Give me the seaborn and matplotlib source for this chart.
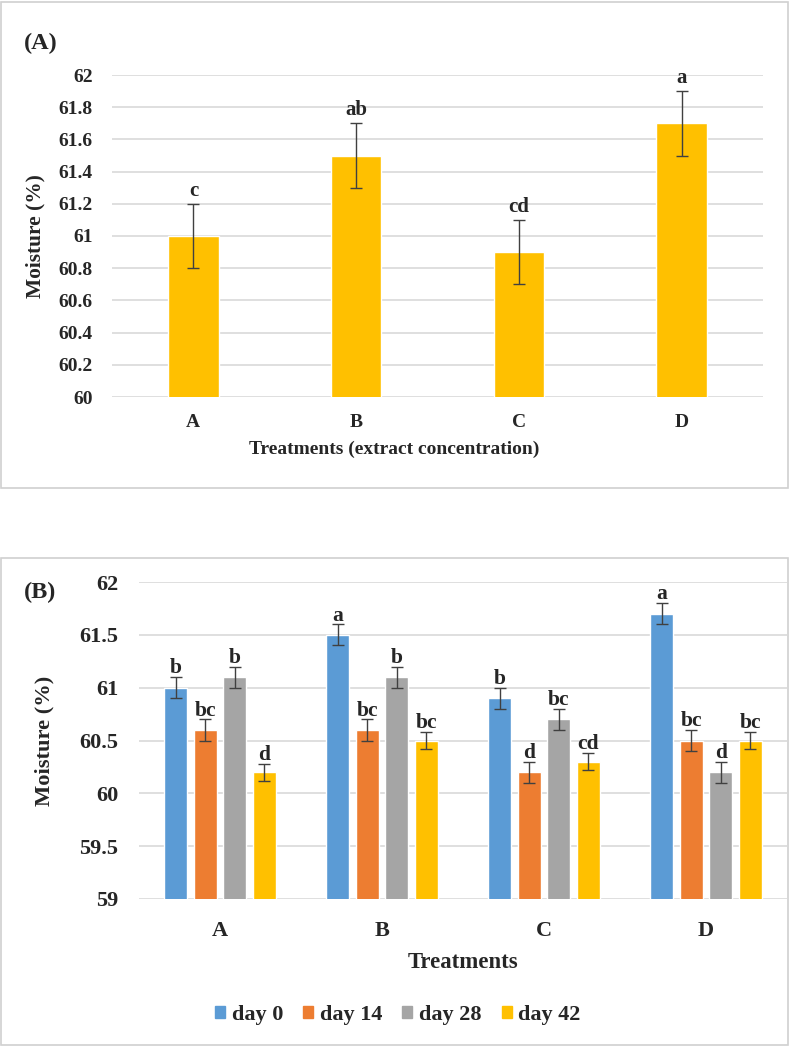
import matplotlib
matplotlib.use("Agg")
import matplotlib.pyplot as plt
import seaborn as sns
import pandas as pd
import numpy as np
from matplotlib.patches import Rectangle

sns.set_theme(style="white")
plt.rcParams['font.family'] = ['Liberation Serif', 'DejaVu Serif']
plt.rcParams['font.weight'] = 'bold'

# ---------- data ----------
treatments = ["A", "B", "C", "D"]
moisture_a = [61.0, 61.5, 60.9, 61.7]
err_a = [0.2, 0.2, 0.2, 0.2]
letters_a = ["c", "ab", "cd", "a"]

days = ["day 0", "day 14", "day 28", "day 42"]
day0 = [61.0, 61.5, 60.9, 61.7]
day14 = [60.6, 60.6, 60.2, 60.5]
day28 = [61.1, 61.1, 60.7, 60.2]
day42 = [60.2, 60.5, 60.3, 60.5]
err_day0 = [0.1, 0.1, 0.1, 0.1]
err_day14 = [0.1, 0.1, 0.1, 0.1]
err_day28 = [0.1, 0.1, 0.1, 0.1]
err_day42 = [0.08, 0.08, 0.08, 0.08]
letters_day0 = ["b", "a", "b", "a"]
letters_day14 = ["bc", "bc", "d", "bc"]
letters_day28 = ["b", "b", "bc", "d"]
letters_day42 = ["d", "bc", "cd", "bc"]

colors = ["#5B9BD5", "#ED7D31", "#A5A5A5", "#FFC000"]
grid_c = "#D9D9D9"
err_c = "#404040"

fig = plt.figure(figsize=(7.89, 10.48), dpi=100)

# panel borders
for (y0, y1) in [(2, 488), (558, 1045)]:
    fig.patches.append(Rectangle((1 / 789, 1 - y1 / 1048), 787 / 789, (y1 - y0) / 1048,
                                 transform=fig.transFigure, fill=False,
                                 edgecolor="#D0D0D0", lw=1.2))

# ---------- panel A ----------
axA = fig.add_axes([112 / 789, 1 - 397 / 1048, (763 - 112) / 789, (397 - 75) / 1048])
dfA = pd.DataFrame({"Treatment": treatments, "Moisture": moisture_a})
sns.barplot(data=dfA, x="Treatment", y="Moisture", color="#FFC000", saturation=1,
            width=0.31, ax=axA, errorbar=None)
axA.set_xlim(-0.5, 3.5)
xsA = [p.get_x() + p.get_width() / 2 for p in axA.patches]
axA.errorbar(xsA, moisture_a, yerr=err_a, fmt="none", ecolor=err_c, elinewidth=1,
             capsize=4, capthick=1)
for x, v, e, l in zip(xsA, moisture_a, err_a, letters_a):
    axA.text(x, v + e + 0.05, l, ha="center", va="baseline", fontsize=15, fontweight="bold")
axA.set_ylim(60, 62)
axA.set_yticks(np.arange(60, 62.01, 0.2))
axA.set_yticklabels(["60", "60.2", "60.4", "60.6", "60.8", "61", "61.2", "61.4", "61.6", "61.8", "62"])
axA.yaxis.grid(True, color=grid_c, lw=1.2)
axA.set_axisbelow(True)
for s in axA.spines.values():
    s.set_visible(False)
axA.tick_params(axis="y", length=0, labelsize=14, pad=13.7)
axA.tick_params(axis="x", length=0, labelsize=14, pad=12.5)
for t in axA.get_xticklabels() + axA.get_yticklabels():
    t.set_fontweight("bold")
axA.set_xlabel("Treatments (extract concentration)", fontsize=14, fontweight="bold")
axA.xaxis.set_label_coords(0.433, -0.135)
axA.set_ylabel("Moisture (%)", fontsize=15.4, fontweight="bold")
axA.yaxis.set_label_coords(-0.102, 0.5)
fig.text(24 / 789, 1 - 43 / 1048, "(A)", fontsize=17.5, fontweight="bold", va="center", ha="left")

# ---------- panel B ----------
axB = fig.add_axes([139 / 789, 1 - 899 / 1048, (787 - 139) / 789, (899 - 582) / 1048])
vals = [day0, day14, day28, day42]
errs = [err_day0, err_day14, err_day28, err_day42]
lets = [letters_day0, letters_day14, letters_day28, letters_day42]
rows = []
for d, v in zip(days, vals):
    for t, m in zip(treatments, v):
        rows.append({"Treatment": t, "Day": d, "Moisture": m})
dfB = pd.DataFrame(rows)
sns.barplot(data=dfB, x="Treatment", y="Moisture", hue="Day", palette=colors, saturation=1,
            width=0.728, gap=0.22, ax=axB, errorbar=None)
axB.set_xlim(-0.5, 3.5)
for cont, v, e, l in zip(axB.containers, vals, errs, lets):
    xs = [p.get_x() + p.get_width() / 2 for p in cont.patches]
    axB.errorbar(xs, v, yerr=e, fmt="none", ecolor=err_c, elinewidth=1, capsize=4, capthick=1)
    for x, vv, ee, ll in zip(xs, v, e, l):
        axB.text(x, vv + ee + 0.035, ll, ha="center", va="baseline", fontsize=15.5, fontweight="bold")
axB.set_ylim(59, 62)
axB.set_yticks([59, 59.5, 60, 60.5, 61, 61.5, 62])
axB.set_yticklabels(["59", "59.5", "60", "60.5", "61", "61.5", "62"])
axB.yaxis.grid(True, color=grid_c, lw=1.2)
axB.set_axisbelow(True)
for s in axB.spines.values():
    s.set_visible(False)
axB.tick_params(axis="y", length=0, labelsize=16, pad=15)
axB.tick_params(axis="x", length=0, labelsize=16, pad=16)
for t in axB.get_xticklabels() + axB.get_yticklabels():
    t.set_fontweight("bold")
axB.set_xlabel("Treatments", fontsize=16.4, fontweight="bold")
axB.xaxis.set_label_coords(0.5, -0.167)
axB.set_ylabel("Moisture (%)", fontsize=16.2, fontweight="bold")
axB.yaxis.set_label_coords(-0.131, 0.5)
axB.legend_.remove()
handles = [Rectangle((0, 0), 1, 1, color=c) for c in colors]
fig.legend(handles, days, loc="center", bbox_to_anchor=(398 / 789, 1 - 1015 / 1048), ncol=4,
           frameon=False, prop={"size": 16, "weight": "bold"}, handlelength=0.45, handleheight=0.45,
           handletextpad=0.3, columnspacing=0.9)
fig.text(24 / 789, 1 - 592 / 1048, "(B)", fontsize=17.5, fontweight="bold", va="center", ha="left")

fig.savefig("out.png", dpi=100, facecolor="white")
